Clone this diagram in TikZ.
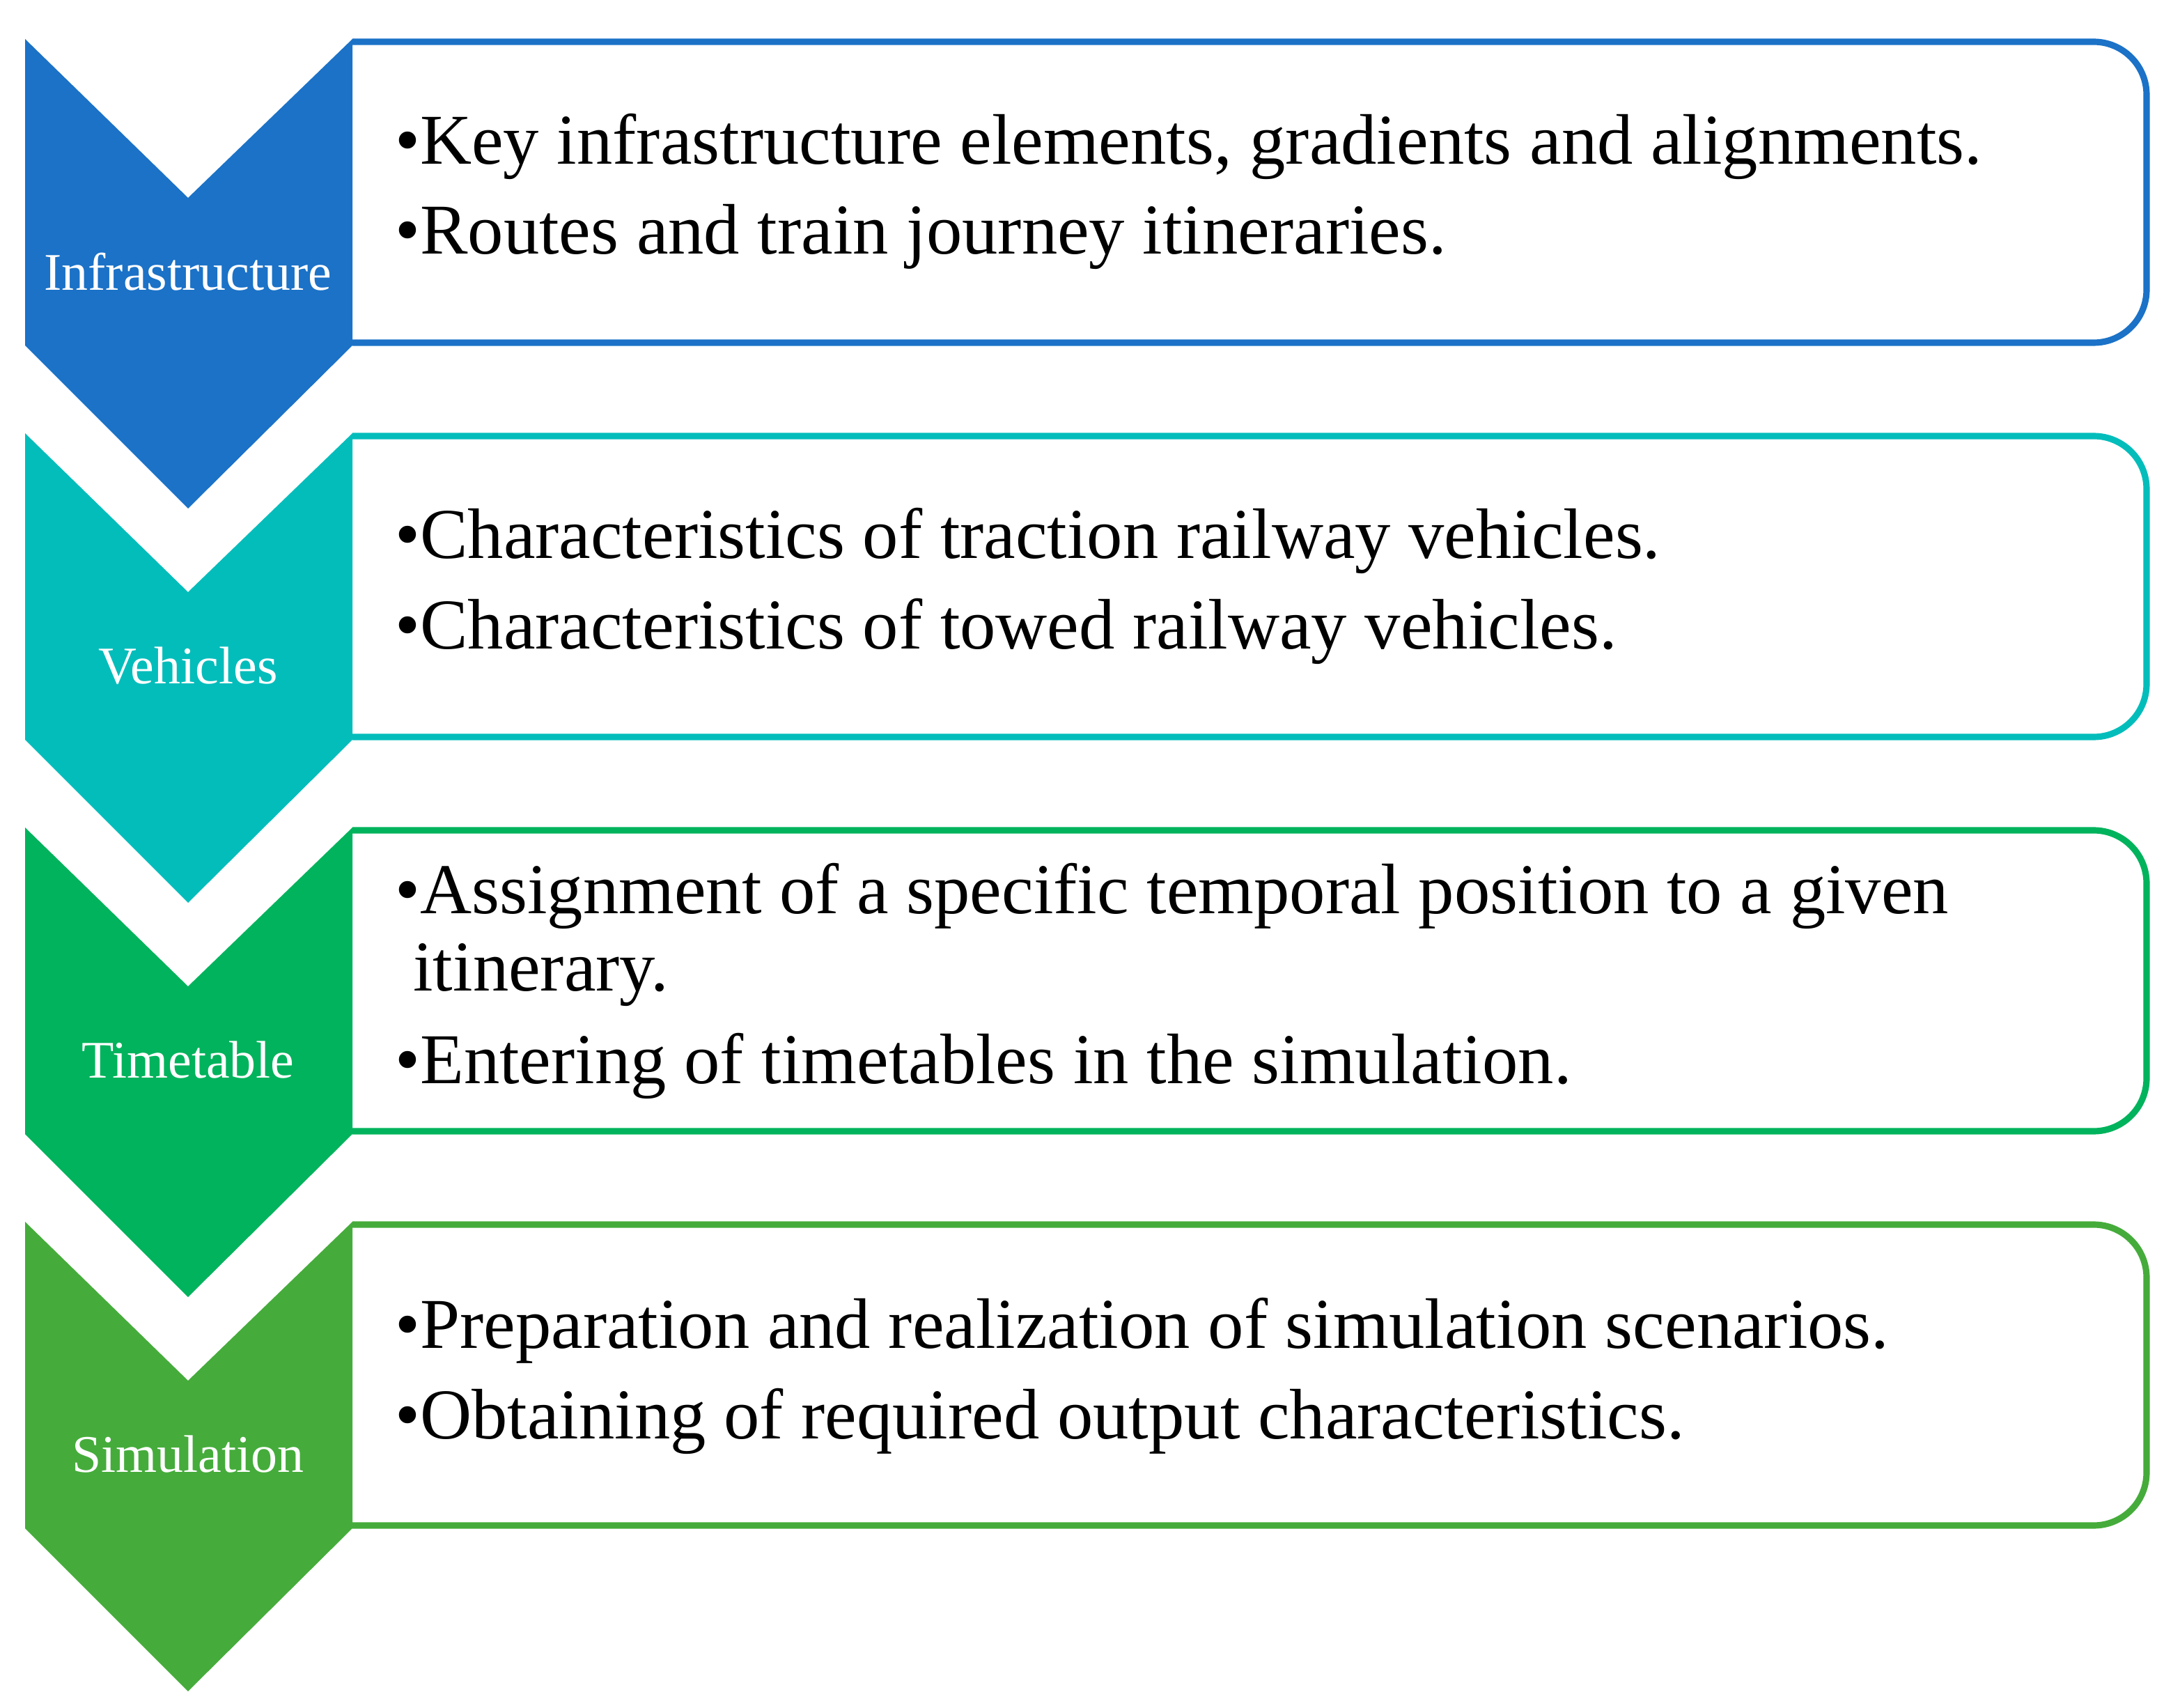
\documentclass[tikz,border=0pt]{standalone}
\usepackage{fontspec}
\setmainfont{Liberation Serif}
\definecolor{cA}{HTML}{1B72C7}
\definecolor{cB}{HTML}{03BDBB}
\definecolor{cC}{HTML}{00B35C}
\definecolor{cD}{HTML}{45AC3B}
\begin{document}
\begin{tikzpicture}[x=0.1mm,y=-0.1mm,
  lbl/.style={text=white,font=\fontsize{10.8}{13}\selectfont},
  itm/.style={anchor=west,font=\fontsize{14.6}{16}\selectfont,inner sep=0pt}]
\useasboundingbox (0,0) rectangle (1565,1226);
\foreach \c/\o/\t [count=\i] in {cA/0/Infrastructure,cB/283/Vehicles,cC/566/Timetable,cD/849/Simulation}{
  \begin{scope}[yshift=-\o*0.1mm]
  \draw[\c,line width=1.3pt,rounded corners=3.8mm] (253,30) -- (1541,30) -- (1541,246) -- (253,246);
  \fill[\c] (18,28) -- (135,142) -- (253,28) -- (253,248) -- (135,365) -- (18,248) -- cycle;
  \node[lbl] (l\i) at (135,195) {\t};
  \end{scope}
}
\node[itm] (a1) at (283,105) {•Key infrastructure elements, gradients and alignments.};
\node[itm] (a2) at (283,170) {•Routes and train journey itineraries.};
\node[itm] (b1) at (283,388) {•Characteristics of traction railway vehicles.};
\node[itm] (b2) at (283,453) {•Characteristics of towed railway vehicles.};
\node[itm] (c1) at (283,643) {•Assignment of a specific temporal position to a given};
\node[itm] (c2) at (296,700) {itinerary.};
\node[itm] (c3) at (283,765) {•Entering of timetables in the simulation.};
\node[itm] (d1) at (283,955) {•Preparation and realization of simulation scenarios.};
\node[itm] (d2) at (283,1020) {•Obtaining of required output characteristics.};
\end{tikzpicture}
\end{document}
